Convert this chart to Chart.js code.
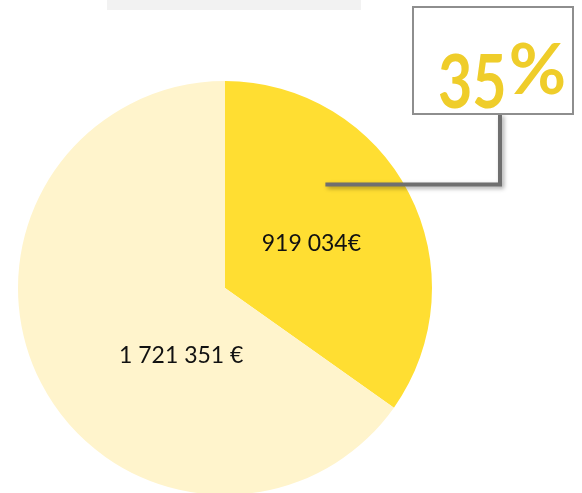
<!DOCTYPE html>
<html>
<head>
<meta charset="utf-8">
<script src="https://cdn.jsdelivr.net/npm/chart.js@4"></script>
<style>
  html, body { margin: 0; padding: 0; background: #fff; overflow: hidden; }
  #wrap { position: relative; width: 582px; height: 520px; }
  #topbar { position: absolute; left: 107px; top: 0; width: 254px; height: 10px; background: #f2f2f2; }
</style>
</head>
<body>
<div id="wrap">
  <div id="topbar"></div>
  <canvas id="pieChart" width="582" height="520"></canvas>
</div>
<script>
// Data
const categories = ['Part A', 'Part B'];
const amounts = [919034, 1721351];
const amountLabels = ['919 034€', '1 721 351 €'];
const sliceColors = ['#FFDE32', '#FFF4CC'];
const calloutText = '35%';

// Label placement inside each slice: angle offset (fraction of slice) and radius fraction
const labelSpots = [
  { t: 0.5, r: 0.47 },
  { t: 0.373, r: 0.39 }
];

// Draws the amount labels and the percentage callout
const labelPlugin = {
  id: 'labels',
  afterDatasetsDraw(chart) {
    const ctx = chart.ctx;
    const arcs = chart.getDatasetMeta(0).data;
    ctx.save();
    ctx.fillStyle = '#111';
    ctx.font = '23px Lato, "Open Sans", sans-serif';
    ctx.textAlign = 'center';
    ctx.textBaseline = 'middle';
    arcs.forEach((arc, i) => {
      const a = arc.startAngle + (arc.endAngle - arc.startAngle) * labelSpots[i].t;
      const rr = arc.outerRadius * labelSpots[i].r;
      ctx.fillText(amountLabels[i], arc.x + Math.cos(a) * rr, arc.y + Math.sin(a) * rr);
    });

    // connector line from the first slice to the callout box
    const a0 = arcs[0];
    const sx = a0.x + a0.outerRadius * 0.485;
    const sy = a0.y - a0.outerRadius * 0.5;
    const boxL = 413, boxT = 7, boxW = 160, boxH = 107;
    const cornerX = 500;
    ctx.shadowColor = 'rgba(0,0,0,0.35)';
    ctx.shadowBlur = 4;
    ctx.shadowOffsetX = 2;
    ctx.shadowOffsetY = 2;
    ctx.strokeStyle = '#6f6f6f';
    ctx.lineWidth = 4;
    ctx.beginPath();
    ctx.moveTo(sx, sy);
    ctx.lineTo(cornerX, sy);
    ctx.lineTo(cornerX, boxT + boxH);
    ctx.stroke();
    ctx.shadowColor = 'transparent';

    // callout box
    ctx.fillStyle = '#fff';
    ctx.fillRect(boxL, boxT, boxW, boxH);
    ctx.strokeStyle = '#8e8e8e';
    ctx.lineWidth = 2;
    ctx.strokeRect(boxL, boxT, boxW, boxH);

    // percentage text: condensed digits, full-width sign
    ctx.fillStyle = '#EFCD2A';
    ctx.textAlign = 'left';
    ctx.textBaseline = 'alphabetic';
    const num = calloutText.replace('%', '');
    ctx.save();
    ctx.translate(438, 0);
    ctx.scale(0.8, 1);
    ctx.font = 'bold 74px Lato, "Open Sans", sans-serif';
    ctx.fillText(num, 0, 108);
    const w = ctx.measureText(num).width * 0.8;
    ctx.restore();
    ctx.font = 'bold 70px Lato, "Open Sans", sans-serif';
    ctx.fillText('%', 438 + w + 2, 94);
    ctx.restore();
  }
};

const ctx = document.getElementById('pieChart').getContext('2d');
new Chart(ctx, {
  type: 'pie',
  data: {
    labels: categories,
    datasets: [{
      data: amounts,
      backgroundColor: sliceColors,
      borderWidth: 0
    }]
  },
  options: {
    responsive: false,
    animation: false,
    layout: { padding: { left: 18, top: 81, right: 150, bottom: 25 } },
    plugins: {
      legend: { display: false },
      tooltip: { enabled: false }
    }
  },
  plugins: [labelPlugin]
});
</script>
</body>
</html>
